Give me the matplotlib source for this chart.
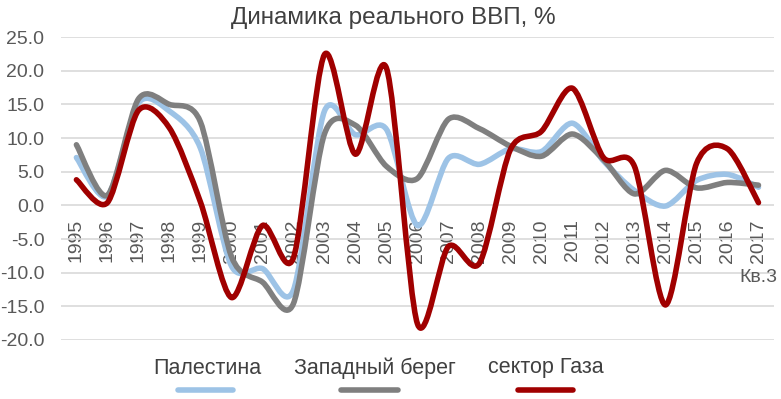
import numpy as np
import matplotlib
matplotlib.use('Agg')
import matplotlib.pyplot as plt
from matplotlib.path import Path
from matplotlib.patches import PathPatch
from matplotlib.lines import Line2D

plt.rcParams['font.family'] = ['Liberation Sans', 'DejaVu Sans']

years = [str(y) for y in range(1995, 2018)]
palestine = [7.1, 1.4, 15.2, 14.0, 8.5, -9.0, -9.4, -12.6, 14.0, 10.5, 11.3, -3.0, 7.0, 6.1,
             8.4, 8.0, 12.2, 6.6, 2.2, -0.1, 3.7, 4.6, 2.7]
west_bank = [9.0, 1.5, 15.8, 15.0, 12.4, -7.6, -11.4, -14.6, 10.6, 11.9, 5.8, 4.0, 12.8, 11.4,
             8.8, 7.3, 10.6, 6.8, 1.7, 5.2, 2.6, 3.4, 3.0]
gaza = [3.8, 0.4, 14.1, 11.5, 0.5, -13.7, -3.0, -7.8, 22.4, 7.6, 20.4, -17.6, -6.1, -8.6,
        8.3, 11.0, 17.4, 7.1, 5.8, -14.8, 6.2, 8.4, 0.4]
names = ['Палестина', 'Западный берег', 'сектор Газа']
colors = ['#9DC3E6', '#7F7F7F', '#A00000']
sub_label = 'Кв.3'


def smooth_path(xs, ys, k=7.0):
    # excel-like smoothed line: catmull-rom style segments as cubic beziers
    pts = np.column_stack([xs, ys]).astype(float)
    n = len(pts)
    verts = [pts[0]]
    codes = [Path.MOVETO]
    for i in range(n - 1):
        p0 = pts[i - 1] if i > 0 else pts[i]
        p1 = pts[i]
        p2 = pts[i + 1]
        p3 = pts[i + 2] if i + 2 < n else pts[i + 1]
        c1 = p1 + (p2 - p0) / k
        c2 = p2 - (p3 - p1) / k
        verts += [c1, c2, p2]
        codes += [Path.CURVE4] * 3
    return Path(verts, codes)


fig = plt.figure(figsize=(7.81, 3.99), dpi=100)
ax = fig.add_axes([0.078, 0.148, 0.913, 0.759])

x = np.arange(len(years))
for vals, c in zip([palestine, west_bank, gaza], colors):
    patch = PathPatch(smooth_path(x, vals), fill=False, edgecolor=c, lw=4,
                      capstyle='round', joinstyle='round')
    ax.add_patch(patch)

ax.set_xlim(-0.5, len(years) - 0.5)
ax.set_ylim(-20, 25)
ax.set_yticks(np.arange(-20, 26, 5))
ax.set_yticklabels(['%.1f' % v for v in np.arange(-20, 26, 5)])
ax.yaxis.grid(True, color='#D9D9D9', lw=1.2)
ax.set_axisbelow(True)
for s in ax.spines.values():
    s.set_visible(False)
ax.spines['bottom'].set_position(('data', 0))
ax.set_xticks(x)
ax.set_xticklabels(years, rotation=90, va='top', ha='center')
ax.tick_params(axis='x', length=0, pad=10, labelsize=14, labelcolor='#595959')
ax.tick_params(axis='y', length=0, pad=12, labelsize=14, labelcolor='#595959')
ax.text(x[-1], -10.7, sub_label, ha='center', va='center', fontsize=14, color='#595959')

fig.text(0.503, 0.955, 'Динамика реального ВВП, %', ha='center', va='center',
         fontsize=17.5, color='#404040')

# legend: text above, line sample below
text_x = [207, 375, 546]
line_x = [(178, 233), (341, 398), (518, 573)]
for name, c, tx, (l0, l1) in zip(names, colors, text_x, line_x):
    fig.text(tx / 781, 1 - 368 / 399, name, ha='center', va='center', fontsize=15.5, color='#404040')
    fig.add_artist(Line2D([l0 / 781, l1 / 781], [1 - 390 / 399] * 2, color=c, lw=4,
                          solid_capstyle='round', transform=fig.transFigure))

fig.savefig('out.png', dpi=100)
